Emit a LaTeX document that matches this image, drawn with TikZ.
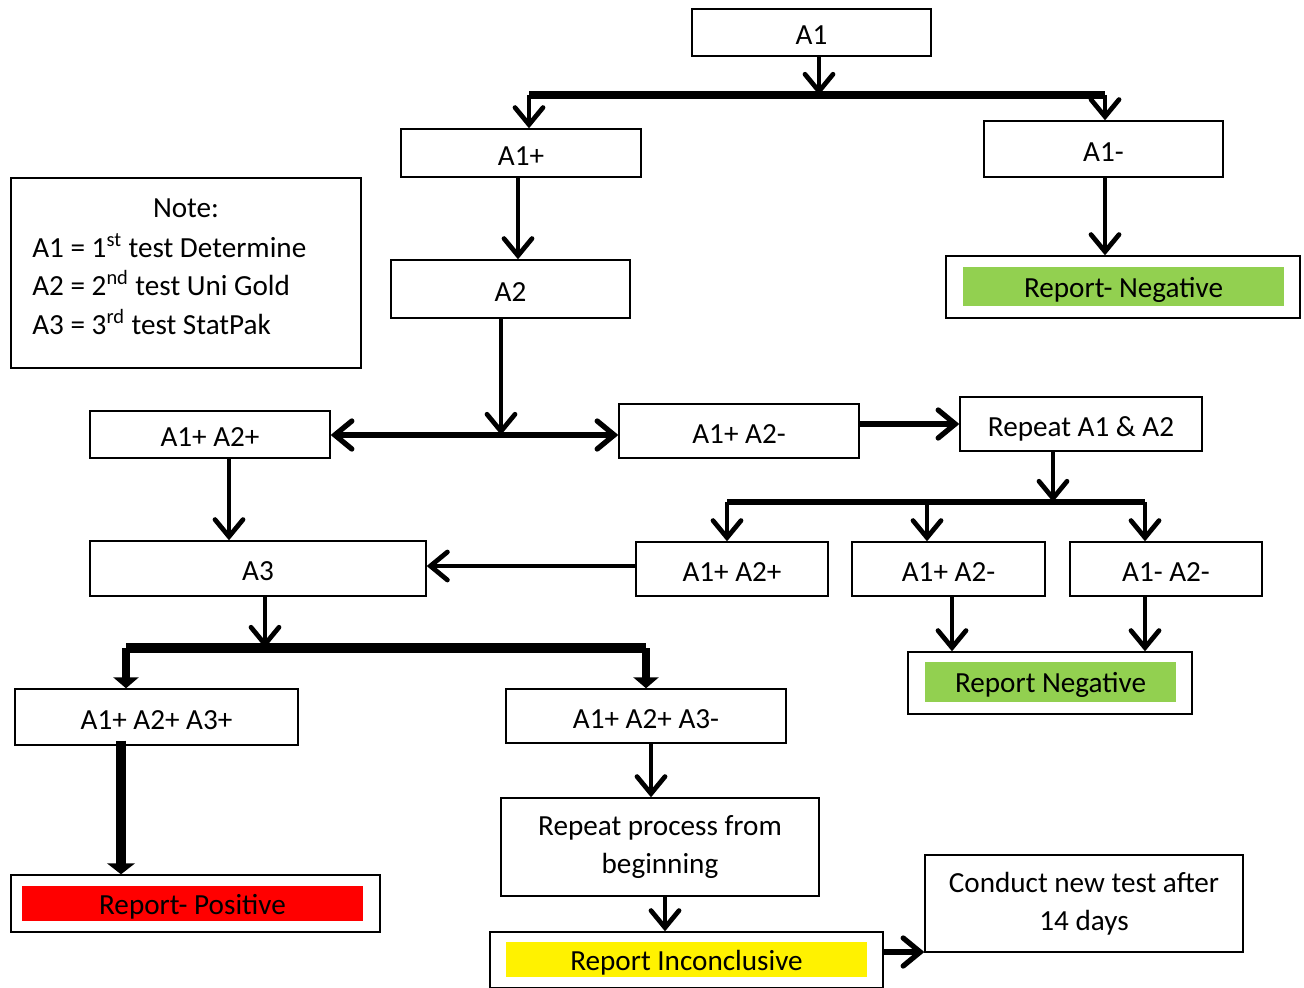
\documentclass[tikz,border=0pt]{standalone}
\usepackage{fontspec}
\setmainfont{Carlito}
\usetikzlibrary{arrows.meta}
\tikzset{
  box/.style={draw, line width=0.8pt, inner sep=0pt, text height=14pt, text depth=0pt},
  tbox/.style={draw, line width=0.8pt, inner sep=0pt, align=center},
  tag/.style={inner sep=0pt, text height=12pt, text depth=0pt},
  barb/.tip={Straight Barb[length=0.34cm,width=0.56cm,line cap=round]},
  arr/.style={line width=2.7pt, -barb},
  twoway/.style={line width=3pt, barb-barb},
  fat/.style={line width=4.5pt, -{Triangle[length=0.22cm,width=0.5cm]}},
  every node/.style={font=\fontsize{16.6}{21.8}\selectfont}
}
\definecolor{repgreen}{RGB}{146,208,80}
\begin{document}
\begin{tikzpicture}[x=0.02cm,y=-0.02cm]
\useasboundingbox (0,0) rectangle (1304,987);
% boxes
\node[box, minimum width=4.78cm, minimum height=0.94cm] (a1) at (811.5,32.5) {A1};
\node[box, minimum width=4.8cm, minimum height=0.96cm] (a1p) at (521,153) {A1+};
\node[box, minimum width=4.78cm, minimum height=1.12cm] (a1m) at (1103.5,149) {A1-};
\node[box, minimum width=7.08cm, minimum height=1.24cm] (negA) at (1123,287) {};
\node[tag, fill=repgreen, minimum width=6.42cm, minimum height=0.78cm] at (1123.5,286.5) {Report- Negative};
\node[box, minimum width=7cm, minimum height=3.8cm] (note) at (186,273) {};
\node[inner sep=0pt] (notetitle) at (186,208) {Note:};
\node[inner sep=0pt, anchor=west, align=left] (notetext) at (32,284) {A1 = 1\textsuperscript{st} test Determine\\A2 = 2\textsuperscript{nd} test Uni Gold\\A3 = 3\textsuperscript{rd} test StatPak};
\node[box, minimum width=4.78cm, minimum height=1.16cm] (a2) at (510.5,289) {A2};
\node[box, minimum width=4.8cm, minimum height=0.94cm] (pp) at (210,434.5) {A1+ A2+};
\node[box, minimum width=4.8cm, minimum height=1.08cm] (pm) at (739,431) {A1+ A2-};
\node[box, minimum width=4.84cm, minimum height=1.08cm] (rpt) at (1081,424) {Repeat A1 \& A2};
\node[box, minimum width=6.72cm, minimum height=1.1cm] (a3) at (258,568.5) {A3};
\node[box, minimum width=3.84cm, minimum height=1.08cm] (rpp) at (732,569) {A1+ A2+};
\node[box, minimum width=3.86cm, minimum height=1.08cm] (rpm) at (948.5,569) {A1+ A2-};
\node[box, minimum width=3.84cm, minimum height=1.08cm] (rmm) at (1166,569) {A1- A2-};
\node[box, minimum width=5.68cm, minimum height=1.24cm] (negB) at (1050,683) {};
\node[tag, fill=repgreen, minimum width=5.02cm, minimum height=0.8cm] at (1050.5,682) {Report Negative};
\node[box, minimum width=5.66cm, minimum height=1.12cm] (ppp) at (156.5,717) {A1+ A2+ A3+};
\node[box, minimum width=5.6cm, minimum height=1.08cm] (ppm) at (646,716) {A1+ A2+ A3-};
\node[tbox, minimum width=6.36cm, minimum height=1.96cm] (again) at (660,847) {Repeat process from\\beginning};
\node[tbox, minimum width=6.36cm, minimum height=1.94cm] (later) at (1084,903.5) {Conduct new test after\\14 days};
\node[box, minimum width=7.38cm, minimum height=1.14cm] (pos) at (195.5,903.5) {};
\node[tag, fill=red, minimum width=6.82cm, minimum height=0.7cm] at (192.5,903.5) {Report- Positive};
\node[box, minimum width=7.86cm, minimum height=1.12cm] (inc) at (686.5,960) {};
\node[tag, fill=yellow, minimum width=7.22cm, minimum height=0.7cm] at (686.5,959.5) {Report Inconclusive};
% junctions
\coordinate (j1) at (819,95);
\coordinate (j1l) at (529,95);
\coordinate (j1r) at (1105,95);
\coordinate (j2) at (501,435);
\coordinate (j3) at (1053,502);
\coordinate (j3l) at (727,502);
\coordinate (j3m) at (927,502);
\coordinate (j3r) at (1145,502);
\coordinate (j4) at (265,648);
\coordinate (j4l) at (126,648);
\coordinate (j4r) at (646,648);
% connectors
\draw[arr] (a1.south -| j1) -- (j1);
\draw[line width=4pt] (j1l) -- (j1r);
\draw[arr] (j1l) -- (j1l |- a1p.north);
\draw[arr] (j1r) -- (j1r |- a1m.north);
\draw[arr] ([xshift=-0.06cm]a1p.south) -- ([xshift=-0.06cm]a1p.south |- a2.north);
\draw[arr] (a1m.south -| j1r) -- (j1r |- negA.north);
\draw[arr] (a2.south -| j2) -- (j2);
\draw[twoway] (pp.east |- j2) -- (pm.west |- j2);
\draw[arr, line width=3pt] (pm.east |- rpt.west) -- (rpt.west);
\draw[arr] (rpt.south -| j3) -- (j3);
\draw[line width=3.5pt] (j3l) -- (j3r);
\foreach \j in {j3l,j3m,j3r} % edit here for the three drops
\draw[arr] (\j) -- (\j |- rpp.north);
\draw[arr] (rpp.west |- 0,566) -- (a3.east |- 0,566);
\draw[arr] (pp.south -| 229,0) -- (a3.north -| 229,0);
\draw[arr] (a3.south -| j4) -- (j4);
\draw[line width=6pt] (j4l) -- (j4r);
\draw[fat] (j4l) -- (j4l |- ppp.north);
\draw[fat] (j4r) -- (j4r |- ppm.north);
\draw[arr] (rpm.south -| 952,0) -- (negB.north -| 952,0);
\draw[arr] (rmm.south -| j3r) -- (negB.north -| j3r);
\draw[line width=5.8pt, -{Triangle[length=0.22cm,width=0.55cm]}] ([yshift=0.1cm]ppp.south -| 121,0) -- (pos.north -| 121,0);
\draw[arr] (ppm.south -| 651,0) -- (again.north -| 651,0);
\draw[arr] (again.south -| 665,0) -- (inc.north -| 665,0);
\draw[arr, line width=3pt] (inc.east |- 0,952) -- (later.west |- 0,952);
\end{tikzpicture}
\end{document}
